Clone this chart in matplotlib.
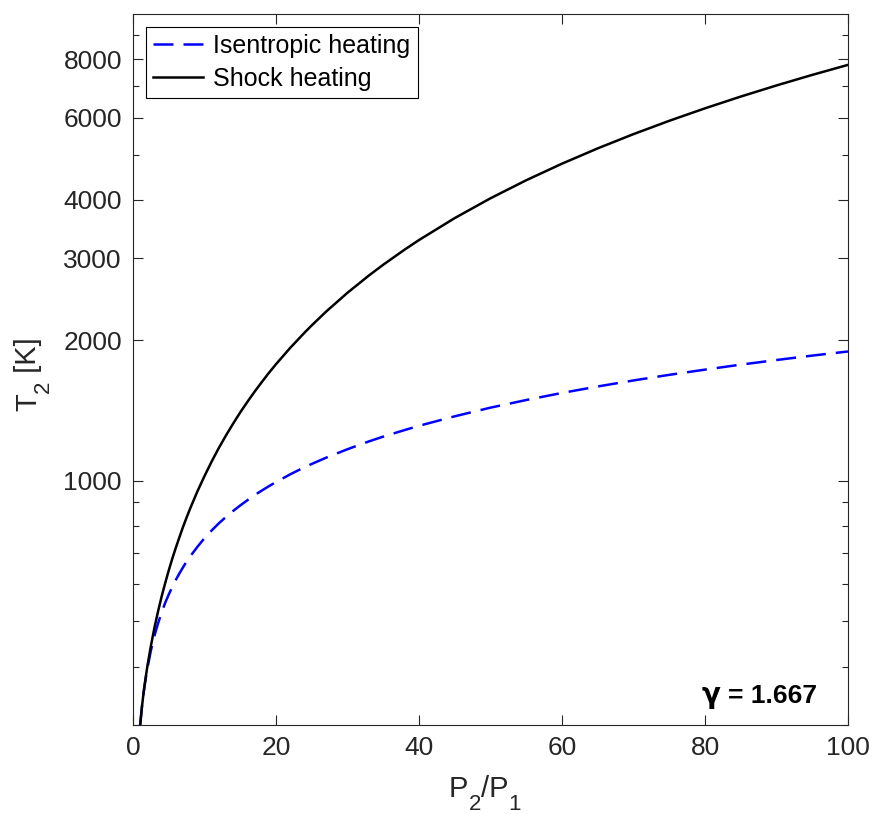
import matplotlib
matplotlib.use("Agg")
import matplotlib.pyplot as plt
import matplotlib.transforms as mtrans
import numpy as np

plt.rcParams['font.family'] = ['Liberation Sans', 'DejaVu Sans']

# pressure ratio P2/P1
pRatio = [1, 1.25, 1.5, 1.75, 2, 2.5, 3, 3.5, 4, 4.5,
          5, 5.5, 6, 6.5, 7, 7.5, 8, 9, 10, 11,
          12, 13, 14, 15, 16, 17, 18, 19, 20, 22,
          24, 25, 27, 30, 33, 35, 38, 40, 45, 50,
          55, 60, 65, 70, 75, 80, 85, 90, 95, 100]

# T2 [K], isentropic compression
tIsentropic = [300, 328, 353, 375, 396, 433, 466, 495, 522, 548,
               571, 593, 614, 634, 653, 672, 689, 722, 754, 783,
               811, 837, 862, 886, 909, 932, 953, 974, 994, 1033,
               1070, 1087, 1121, 1169, 1215, 1244, 1285, 1312, 1375, 1435,
               1490, 1543, 1593, 1641, 1687, 1731, 1774, 1815, 1855, 1893]

# T2 [K], shock heating
tShock = [300, 328, 354, 377, 400, 443, 485, 525, 565, 604,
          643, 682, 720, 758, 797, 835, 873, 949, 1024, 1100,
          1176, 1251, 1326, 1402, 1477, 1552, 1627, 1703, 1778, 1928,
          2078, 2153, 2304, 2529, 2754, 2904, 3129, 3280, 3655, 4030,
          4405, 4780, 5155, 5530, 5905, 6280, 6655, 7030, 7406, 7781]

xTicks = [0, 20, 40, 60, 80, 100]
yTicks = [1000, 2000, 3000, 4000, 6000, 8000]
yMinor = [300, 400, 500, 600, 700, 800, 900, 5000, 7000, 9000]

W, H = 873, 814
axCol = '#262626'
labSize = 21
subSize = 16
subDrop = 13   # pixels the subscript baseline sits below the main baseline

fig = plt.figure( figsize = ( W / 100, H / 100 ), dpi = 100 )
renderer = fig.canvas.get_renderer()
pix = mtrans.IdentityTransform()


def subLabel( x, y, pieces, rotation = 0 ):
    ###lay text pieces ( text, isSub ) one after another, MATLAB style subscripts
    ###x, y: start of the baseline in pixels from the top left corner
    pos = 0.0
    for txt, isSub in pieces:
        size = subSize if isSub else labSize
        drop = subDrop if isSub else 0
        if rotation == 0:
            px, py = x + pos, H - y - drop
        else:
            px, py = x + drop, H - y + pos
        t = fig.text( px, py, txt, fontsize = size, color = axCol, transform = pix, rotation = rotation,
                      rotation_mode = 'anchor', ha = 'left', va = 'baseline' )
        bb = t.get_window_extent( renderer )
        pos += bb.width if rotation == 0 else bb.height


ax = fig.add_axes( [ 133 / W, 1 - 725 / H, 715 / W, 711 / H ] )

ax.plot( pRatio, tIsentropic, color = 'blue', lw = 1.8, dashes = ( 8, 4 ), label = 'Isentropic heating' )
ax.plot( pRatio, tShock, color = 'black', lw = 1.8, label = 'Shock heating' )

ax.set_yscale( 'log' )
ax.set_xlim( 0, 100 )
ax.set_ylim( 300, 10000 )

ax.set_xticks( xTicks )
ax.set_yticks( yTicks )
ax.set_yticklabels( [ str( v ) for v in yTicks ] )
ax.set_yticks( yMinor, minor = True )
ax.yaxis.set_minor_formatter( matplotlib.ticker.NullFormatter() )

ax.tick_params( which = 'both', direction = 'in', top = True, right = True, colors = axCol, labelsize = 19, width = 0.8 )
ax.tick_params( which = 'major', length = 7, pad = 8 )
ax.tick_params( which = 'minor', length = 4 )
for s in ax.spines.values():
    s.set_color( axCol )
    s.set_linewidth( 0.8 )

# axis labels with big, low subscripts
subLabel( 449, 797, [ ( 'P', False ), ( '2', True ), ( '/P', False ), ( '1', True ) ] )
subLabel( 36, 411, [ ( 'T', False ), ( '2', True ), ( ' [K]', False ) ], rotation = 90 )

leg = ax.legend( loc = 'upper left', fontsize = 18, fancybox = False, framealpha = 1, edgecolor = 'black',
                 borderaxespad = 0.5, handlelength = 2.0, handletextpad = 0.4, labelspacing = 0.35,
                 borderpad = 0.3 )
leg.get_frame().set_linewidth( 0.8 )

# gamma annotation, baseline at 703 px
eq = fig.text( 817, H - 703, '= 1.667', transform = pix, ha = 'right', va = 'baseline',
               fontsize = 19, fontweight = 'bold' )
eqLeft = eq.get_window_extent( renderer ).x0
fig.text( eqLeft - 8, H - 703, 'γ', transform = pix, ha = 'right', va = 'baseline',
          fontsize = 20, family = 'DejaVu Sans', fontweight = 'bold' )

fig.savefig( 'out.png', dpi = 100 )
